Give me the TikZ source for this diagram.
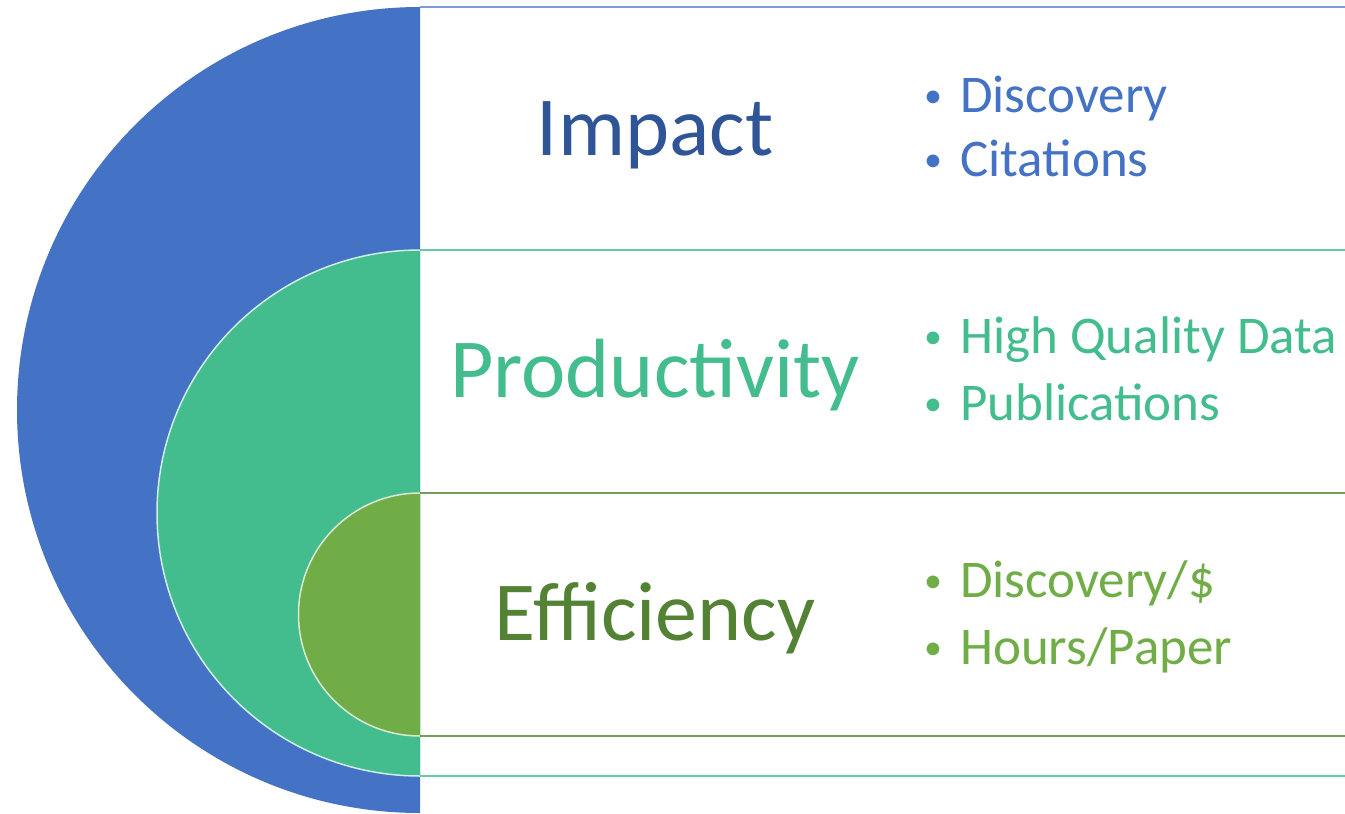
\documentclass[tikz,border=0pt]{standalone}
\usepackage{fontspec}
\setmainfont{Carlito}
\definecolor{impactblue}{HTML}{4472C4}
\definecolor{impactdark}{HTML}{2F5597}
\definecolor{prodgreen}{HTML}{43BC8E}
\definecolor{effgreen}{HTML}{70AD47}
\definecolor{effdark}{HTML}{548235}
\newcommand{\dotitem}{\makebox[42pt][l]{\hspace{6pt}\raisebox{5pt}{\fontsize{36}{36}\selectfont•}}}
\begin{document}
\begin{tikzpicture}[x=1pt,y=-1pt,
        title/.style={anchor=base,inner sep=0pt,font=\fontsize{84}{84}\selectfont},
        item/.style={anchor=base west,inner sep=0pt,font=\fontsize{53}{53}\selectfont},
        rim/.style={draw=white!75!#1,line width=1.5pt},
        rule/.style={line width=2pt}]
      \useasboundingbox (0,0) rectangle (1345,814);
      % half discs
      \fill[impactblue] (420,7) arc (270:90:403) -- cycle;
      \fill[prodgreen] (420,250) arc (270:90:263) -- cycle;
      \draw[rim=prodgreen] (420,250) arc (270:90:263);
      \fill[effgreen] (420,493) arc (270:90:121.5) -- cycle;
      \draw[rim=effgreen] (420,493) arc (270:90:121.5);
      % horizontal rules
      \draw[rule,impactblue!70] (420,7) -- (1345,7);
      \draw[rule,prodgreen!80] (420,250) -- (1345,250);
      \draw[rule,effgreen!70!gray] (420,493) -- (1345,493);
      \draw[rule,effgreen!70!gray] (420,736) -- (1345,736);
      \draw[rule,prodgreen!80] (420,776) -- (1345,776);
      % titles
      \node (impact) at (655,155) [title,text=impactdark] {Impact};
      \node (prod) at (655,397) [title,text=prodgreen] {Productivity};
      \node (eff) at (655,640) [title,text=effdark] {Efficiency};
      % bullets
      \node (disc) at (918,112) [item,text=impactblue] {\dotitem Discovery};
      \node (cit) at (918,176) [item,text=impactblue] {\dotitem Citations};
      \node (hqd) at (918,353) [item,text=prodgreen] {\dotitem High Quality Data};
      \node (pub) at (918,420) [item,text=prodgreen] {\dotitem Publications};
      \node (dpd) at (918,597) [item,text=effgreen] {\dotitem Discovery/\$};
      \node (hpp) at (918,664) [item,text=effgreen] {\dotitem Hours/Paper};
\end{tikzpicture}
\end{document}
